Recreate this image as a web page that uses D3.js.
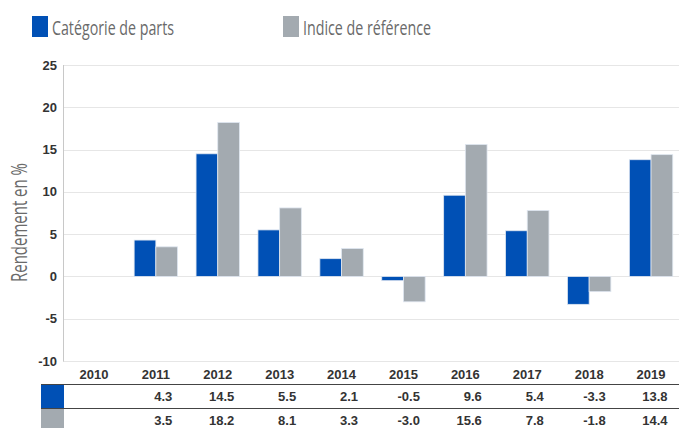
<!DOCTYPE html>
<html><head><meta charset="utf-8">
<script src="https://cdn.jsdelivr.net/npm/d3@7"></script>
<style>body{margin:0;background:#fff;}svg{display:block;}</style>
</head><body>
<svg id="c" width="679" height="428"></svg>
<script>
const years = ["2010","2011","2012","2013","2014","2015","2016","2017","2018","2019"];
const fundValues = [null, 4.3, 14.5, 5.5, 2.1, -0.5, 9.6, 5.4, -3.3, 13.8];
const indexValues = [null, 3.5, 18.2, 8.1, 3.3, -3.0, 15.6, 7.8, -1.8, 14.4];
const seriesNames = ["Catégorie de parts", "Indice de référence"];
const yTicks = [-10, -5, 0, 5, 10, 15, 20, 25];
const colors = ["#0050b5", "#a3aab0"];

const svg = d3.select("#c");
const x = d3.scaleBand().domain(years).range([63, 682]);
const y = d3.scaleLinear().domain([-10, 25]).range([361, 65]);
const groupW = 43.4;
const sub2 = d3.scaleBand().domain([0, 1]).range([(x.bandwidth() - groupW) / 2, (x.bandwidth() + groupW) / 2]);

// gridlines
svg.append("g").selectAll("line").data(yTicks).join("line")
  .attr("x1", 63).attr("x2", 679)
  .attr("y1", d => Math.round(y(d)) + 0.5).attr("y2", d => Math.round(y(d)) + 0.5)
  .attr("stroke", "#e6e6e6").attr("stroke-width", 1);

// left axis line
svg.append("line").attr("x1", 63.5).attr("x2", 63.5).attr("y1", y(25)).attr("y2", y(-10) + 0.5)
  .attr("stroke", "#c8c8c8");

// y tick labels
svg.append("g").selectAll("text").data(yTicks).join("text")
  .attr("x", 57).attr("y", d => y(d) + 4.5)
  .attr("text-anchor", "end")
  .attr("font-family", "Liberation Sans, Arial, sans-serif").attr("font-weight", "bold")
  .attr("font-size", 13).attr("fill", "#333")
  .text(d => d);

// y title
svg.append("text").attr("transform", "translate(27,222.5) rotate(-90)")
  .attr("text-anchor", "middle")
  .attr("font-family", "Open Sans, sans-serif").attr("font-size", 22).attr("fill", "#6a6a6a")
  .attr("textLength", 119).attr("lengthAdjust", "spacingAndGlyphs")
  .text("Rendement en %");

// bars
const series = [fundValues, indexValues];
series.forEach((vals, si) => {
  svg.append("g").selectAll("rect").data(years.map((yr, i) => ({yr, v: vals[i]})).filter(d => d.v !== null))
    .join("rect")
    .attr("x", d => x(d.yr) + sub2(si))
    .attr("width", sub2.bandwidth())
    .attr("y", d => y(Math.max(0, d.v)))
    .attr("height", d => Math.abs(y(d.v) - y(0)))
    .attr("fill", colors[si])
    .attr("stroke", "#dfe6f0").attr("stroke-width", 0.8);
});

// x labels
svg.append("g").selectAll("text").data(years).join("text")
  .attr("x", d => x(d) + x.bandwidth() / 2).attr("y", 379)
  .attr("text-anchor", "middle")
  .attr("font-family", "Liberation Sans, Arial, sans-serif").attr("font-weight", "bold")
  .attr("font-size", 13).attr("fill", "#333")
  .text(d => d);

// table
[384.5, 408.5].forEach(ly => {
  svg.append("line").attr("x1", 41).attr("x2", 679).attr("y1", ly).attr("y2", ly)
    .attr("stroke", "#444").attr("stroke-width", 1.2);
});
svg.append("rect").attr("x", 41).attr("y", 385).attr("width", 23).attr("height", 23).attr("fill", colors[0]);
svg.append("rect").attr("x", 41).attr("y", 409).attr("width", 23).attr("height", 19).attr("fill", colors[1]);

series.forEach((vals, si) => {
  svg.append("g").selectAll("text").data(years.map((yr, i) => ({yr, v: vals[i]})).filter(d => d.v !== null))
    .join("text")
    .attr("x", d => x(d.yr) + x.bandwidth() / 2 + 16.5)
    .attr("y", si === 0 ? 401 : 425)
    .attr("text-anchor", "end")
    .attr("font-family", "Liberation Sans, Arial, sans-serif").attr("font-weight", "bold")
    .attr("font-size", 13).attr("fill", "#333")
    .text(d => d.v.toFixed(1));
});

// legend
const legendX = [32, 283];
const legendLen = [122, 128];
seriesNames.forEach((n, i) => {
  svg.append("rect").attr("x", legendX[i]).attr("y", 16).attr("width", 16).attr("height", 21).attr("fill", colors[i]);
  svg.append("text").attr("x", legendX[i] + 20).attr("y", 35)
    .attr("font-family", "Open Sans, sans-serif").attr("font-size", 20).attr("fill", "#6a6a6a")
    .attr("textLength", legendLen[i]).attr("lengthAdjust", "spacingAndGlyphs")
    .text(n);
});
</script>
</body></html>
